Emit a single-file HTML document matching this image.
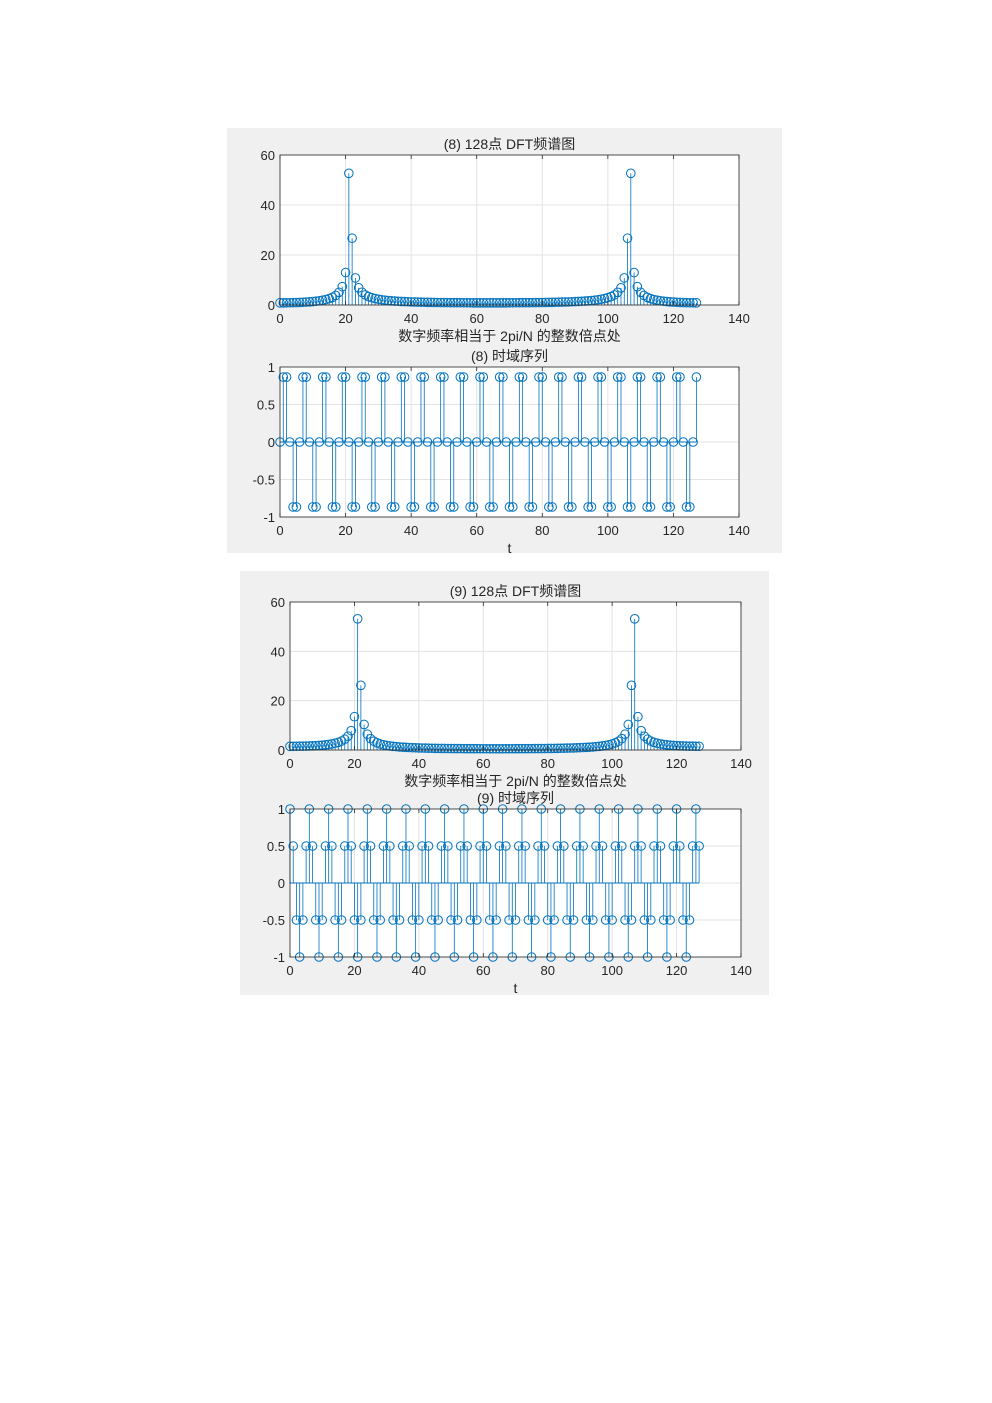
<!DOCTYPE html>
<html><head><meta charset="utf-8">
<style>
html,body{margin:0;padding:0;background:#fff;}
svg{display:block;}
text{font-family:"Liberation Sans","Noto Sans CJK SC",sans-serif;fill:#262626;}
</style></head>
<body>
<svg id="s" width="992" height="1403" xmlns="http://www.w3.org/2000/svg">
<rect x="227" y="128" width="555" height="425" fill="#f0f0f0"/>
<rect x="240" y="571" width="529" height="424" fill="#f0f0f0"/>
</svg>
<script>
var s=document.getElementById('s'),out="";
function T(x,y,t,a,sz){out+='<text x="'+x+'" y="'+y+'" font-size="'+(sz||13)+'" text-anchor="'+(a||'middle')+'">'+t+'</text>';}
function axes(x0,y0,w,h,ymin,ymax,yt,ylab,data,title,xlab,zeroLine){
  var X=function(v){return x0+v/140*w;},Y=function(v){return y0+h-(v-ymin)/(ymax-ymin)*h;};
  out+='<rect x="'+x0+'" y="'+y0+'" width="'+w+'" height="'+h+'" fill="#fff"/>';
  for(var i=0;i<=140;i+=20){var xx=X(i);out+='<line x1="'+xx+'" y1="'+y0+'" x2="'+xx+'" y2="'+(y0+h)+'" stroke="#e3e3e3"/>';T(xx,y0+h+18,i);}
  yt.forEach(function(v,k){var yy=Y(v);out+='<line x1="'+x0+'" y1="'+yy+'" x2="'+(x0+w)+'" y2="'+yy+'" stroke="#e3e3e3"/>';T(x0-5,yy+5,ylab[k],'end');});
  if(zeroLine)out+='<line x1="'+x0+'" y1="'+Y(0)+'" x2="'+X(127)+'" y2="'+Y(0)+'" stroke="#0072bd"/>';
  var base=Y(Math.max(ymin,0));
  data.forEach(function(v,n){var xx=X(n),yy=Y(v);out+='<line x1="'+xx+'" y1="'+base+'" x2="'+xx+'" y2="'+yy+'" stroke="#0072bd" stroke-width="0.8"/>';});
  data.forEach(function(v,n){out+='<circle cx="'+X(n)+'" cy="'+Y(v)+'" r="4.3" fill="none" stroke="#0072bd" stroke-width="1"/>';});
  out+='<rect x="'+x0+'" y="'+y0+'" width="'+w+'" height="'+h+'" fill="none" stroke="#262626" stroke-width="0.8"/>';
  for(var i=0;i<=140;i+=20){var xx=X(i);out+='<line x1="'+xx+'" y1="'+(y0+h)+'" x2="'+xx+'" y2="'+(y0+h-4)+'" stroke="#262626" stroke-width="0.8"/><line x1="'+xx+'" y1="'+y0+'" x2="'+xx+'" y2="'+(y0+4)+'" stroke="#262626" stroke-width="0.8"/>';}
  if(title)T(x0+w/2,y0-6,title,'middle',14);
  if(xlab)T(x0+w/2,y0+h+36,xlab,'middle',14);
}
function dft(x){var N=x.length,r=[];for(var k=0;k<N;k++){var re=0,im=0;for(var n=0;n<N;n++){re+=x[n]*Math.cos(2*Math.PI*k*n/N);im-=x[n]*Math.sin(2*Math.PI*k*n/N);}r.push(Math.sqrt(re*re+im*im));}return r;}
var a=[],b=[];for(var n=0;n<128;n++){a.push(Math.sin(Math.PI*n/3));b.push(Math.cos(Math.PI*n/3));}
axes(280,155,459,150,0,60,[0,20,40,60],['0','20','40','60'],dft(a),'(8) 128点 DFT频谱图','数字频率相当于 2pi/N 的整数倍点处',false);
axes(280,367,459,150,-1,1,[-1,-0.5,0,0.5,1],['-1','-0.5','0','0.5','1'],a,'(8) 时域序列','t',true);
axes(290,602,451,148,0,60,[0,20,40,60],['0','20','40','60'],dft(b),'(9) 128点 DFT频谱图','数字频率相当于 2pi/N 的整数倍点处',false);
axes(290,809,451,148,-1,1,[-1,-0.5,0,0.5,1],['-1','-0.5','0','0.5','1'],b,'(9) 时域序列','t',true);
s.insertAdjacentHTML('beforeend',out);
</script>
</body></html>
